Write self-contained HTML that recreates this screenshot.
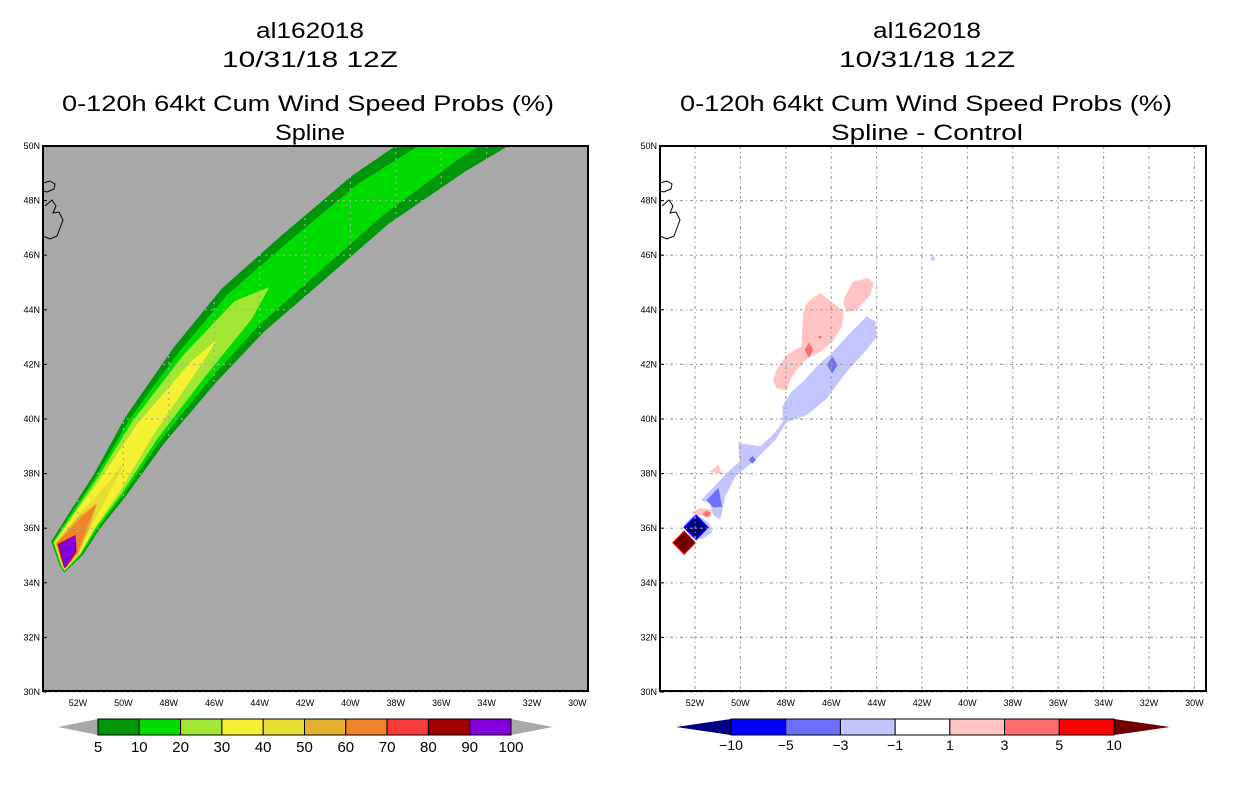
<!DOCTYPE html>
<html><head><meta charset="utf-8">
<style>
html,body{margin:0;padding:0;background:#fff;}
svg{display:block;}
text{font-family:"Liberation Sans",sans-serif;fill:#000;}
</style></head>
<body>
<svg id="root" width="1236" height="800" viewBox="0 0 1236 800">
  <g>
    <text x="310" y="38" font-size="22" text-anchor="middle" textLength="108" lengthAdjust="spacingAndGlyphs">al162018</text>
    <text x="310" y="67" font-size="22" text-anchor="middle" textLength="176" lengthAdjust="spacingAndGlyphs">10/31/18 12Z</text>
    <text x="308" y="111" font-size="22" text-anchor="middle" textLength="492" lengthAdjust="spacingAndGlyphs">0-120h 64kt Cum Wind Speed Probs (%)</text>
    <text x="310" y="140" font-size="22" text-anchor="middle" textLength="70" lengthAdjust="spacingAndGlyphs">Spline</text>
  </g>
  <g>
    <text x="927" y="38" font-size="22" text-anchor="middle" textLength="108" lengthAdjust="spacingAndGlyphs">al162018</text>
    <text x="927" y="67" font-size="22" text-anchor="middle" textLength="176" lengthAdjust="spacingAndGlyphs">10/31/18 12Z</text>
    <text x="926" y="111" font-size="22" text-anchor="middle" textLength="492" lengthAdjust="spacingAndGlyphs">0-120h 64kt Cum Wind Speed Probs (%)</text>
    <text x="927" y="140" font-size="22" text-anchor="middle" textLength="192" lengthAdjust="spacingAndGlyphs">Spline - Control</text>
  </g>
  <defs>
    <clipPath id="clipL"><rect x="0" y="0" width="545" height="545"/></clipPath>
    <clipPath id="clipR"><rect x="0" y="0" width="546" height="545"/></clipPath>
  </defs>
  <g id="panelL" transform="translate(43,146)"></g>
  <g id="panelR" transform="translate(660,146)"></g>
  <g id="cbL"></g>
  <g id="cbR"></g>
</svg>
<script>
// ---------- data ----------
const latTicks = [30,32,34,36,38,40,42,44,46,48,50];
const lonTicks = [52,50,48,46,44,42,40,38,36,34,32,30];
// track stations (deg W, deg N)
const stationLon = [52.57,52.48,51.69,50.59,49.05,46.85,44.73,42.22,39.14,35.66,32.09];
const stationLat = [34.6,35.27,36.3,37.58,39.6,41.98,43.99,45.82,48.02,50.0,51.68];
// half-widths (deg) of each probability contour along stations
const probLevels = [5,10,20,30,40,50,60,70,80,90];
const w5  = [0.18,0.62,0.62,0.7,0.85,1.0,1.1,1.12,1.1,1.1,1.03];
const w10 = [0.15,0.57,0.55,0.6,0.68,0.75,0.8,0.78,0.73,0.59,0.37];
const w20 = [0.12,0.53,0.48,0.52,0.55,0.55,0.45,0,0,0,0];
const w30 = [0.1,0.5,0.44,0.42,0.35,0.18,0,0,0,0,0];
const w40 = [0.08,0.47,0.3,0.1,0,0,0,0,0,0,0];
const w50 = [0.07,0.44,0.24,0,0,0,0,0,0,0,0];
const w60 = [0.06,0.42,0.16,0,0,0,0,0,0,0,0];
const w70 = [0.05,0.39,0,0,0,0,0,0,0,0,0];
const w80 = [0.04,0.35,0,0,0,0,0,0,0,0,0];
const w90 = [0.03,0.3,0,0,0,0,0,0,0,0,0];
const probColors = ['#00960a','#00dc00','#a0e632','#f5f032','#e6dc32','#e6af2d','#f08228','#fa3c3c','#a00000','#8200dc'];
const probLabels = ['5','10','20','30','40','50','60','70','80','90','100'];
// difference field polygons (deg W, deg N)
const diffBand = [[51.70,37.04],[50.60,38.01],[50.02,38.44],[50.09,39.11],[49.58,39.05],[49.13,38.99],[48.55,39.42],[48.11,39.90],[48.14,40.45],[47.74,41.00],[47.23,41.37],[46.64,41.92],[45.90,42.47],[45.24,43.08],[44.44,43.75],[44.07,43.57],[44.00,43.02],[44.58,42.41],[45.32,41.74],[46.20,40.76],[47.08,40.15],[47.96,39.90],[48.48,39.23],[49.28,38.56],[50.24,37.89],[50.68,37.16],[50.90,36.33],[51.19,36.49],[51.34,36.91]];
const diffNavyHalo = [[52.5,36.1],[52.0,36.55],[51.4,36.2],[51.25,35.85],[51.7,35.6],[52.2,35.7]];
const diffTri = [[51.48,37.03],[50.97,37.46],[50.82,36.79],[51.19,36.77]];
const diffPink1 = [[48.55,41.43],[48.40,41.80],[47.96,42.35],[47.30,42.65],[47.23,43.87],[47.08,44.24],[46.49,44.61],[45.46,43.93],[45.54,43.38],[45.90,42.90],[46.35,42.53],[47.08,42.22],[47.52,41.80],[47.81,41.43],[47.96,41.06],[48.40,41.13]];
const diffPink2 = [[45.39,44.48],[45.02,45.03],[44.36,45.15],[44.14,44.97],[44.29,44.54],[44.88,43.99],[45.32,43.93],[45.46,44.24]];
const diffPink3 = [[51.34,38.07],[50.97,38.32],[50.82,37.99]];
const diffPink4 = [[52.15,36.57],[51.78,36.73],[51.26,36.67],[51.34,36.42],[51.92,36.49]];
// diamonds: lon, lat, halfLon, halfLat, colour index
const diamonds = [[49.47,38.50,0.15,0.13,2],[45.95,41.98,0.22,0.3,2],[46.98,42.53,0.18,0.27,5],[51.48,36.52,0.18,0.12,5],[51.95,36.03,0.55,0.47,1],[51.95,36.03,0.45,0.38,0],[52.48,35.47,0.52,0.44,6],[52.48,35.47,0.46,0.38,7],[41.52,45.88,0.1,0.1,3],[46.5,43.0,0.08,0.05,5]];
const diffColors = ['#000080','#0000ff','#6e6eff','#c4c4ff','#ffffff','#ffc4c4','#ff0000','#6e0000'];
const diffBoxColors = ['#0000ff','#6e6eff','#c4c4ff','#ffffff','#ffc4c4','#ff6e6e','#ff0000'];
const diffLabels = ['\u221210','\u22125','\u22123','\u22121','1','3','5','10'];

// ---------- axes ----------
const NS='http://www.w3.org/2000/svg';
const X0=35, PXLON=22.7, PXLAT=27.3;
function xs(lonW){return X0+(52-lonW)*PXLON;}
function ys(lat){return (50-lat)*PXLAT;}
function mk(tag,parent,attrs){const e=document.createElementNS(NS,tag);for(const k in attrs)e.setAttribute(k,attrs[k]);parent.appendChild(e);return e;}
function ptsStr(arr){return arr.map(p=>xs(p[0]).toFixed(1)+','+ys(p[1]).toFixed(1)).join(' ');}

function drawFrame(panel,w,bg,prefix){
  const bgr=mk('rect',panel,{x:0,y:0,width:w,height:545,fill:bg});
  
  
  const content=mk('g',panel,{'clip-path':'url(#'+(prefix==='left'?'clipL':'clipR')+')'});
  
  
  return content;
}
function drawGridAxes(panel,w,gridColor,prefix,dash){
  const g=mk('g',panel,{});
  
  
  lonTicks.forEach(l=>{mk('line',g,{x1:xs(l),x2:xs(l),y1:0,y2:545,stroke:gridColor,'stroke-width':1.2,'stroke-dasharray':dash});});
  latTicks.forEach(l=>{mk('line',g,{x1:0,x2:w,y1:ys(l),y2:ys(l),stroke:gridColor,'stroke-width':1.2,'stroke-dasharray':dash});});
  const c=mk('path',panel,{d:'M0,37 L7,35 L12,38 L11,43 L4,46 L0,45 M2,60 L9,54 L13,60 L10,67 L16,66 L20,74 L17,82 L14,90 L7,93 L0,90',fill:'none',stroke:'#000','stroke-width':1});
  
  
  const fr=mk('rect',panel,{x:0,y:0,width:w,height:545,fill:'none',stroke:'#000','stroke-width':2});
  
  
  latTicks.forEach(l=>{
    const t=mk('text',panel,{x:-3,y:ys(l)+3,'font-size':9,'text-anchor':'end'});
    t.textContent=l+'N';
    
    
    mk('line',panel,{x1:0,x2:4,y1:ys(l),y2:ys(l),stroke:'#000','stroke-width':1});
  });
  lonTicks.forEach(l=>{
    const t=mk('text',panel,{x:xs(l),y:560,'font-size':9,'text-anchor':'middle'});
    t.textContent=l+'W';
    
    
  });
}

// ---------- left panel ----------
const pL=document.getElementById('panelL');
const cL=drawFrame(pL,545,'#a8a8a8','left');
const widths=[w5,w10,w20,w30,w40,w50,w60,w70,w80,w90];
const P=stationLon.map((lo,i)=>[xs(lo),ys(stationLat[i])]);
widths.forEach((w,k)=>{
  let last=0; w.forEach((v,i)=>{if(v>0)last=i;});
  const L=[],R=[];
  for(let i=0;i<=last;i++){
    const a=P[Math.max(0,i-1)], b=P[Math.min(P.length-1,i+1)];
    let tx=b[0]-a[0], ty=b[1]-a[1]; const n=Math.hypot(tx,ty); tx/=n; ty/=n;
    const h=w[i]*PXLAT;
    L.push([P[i][0]-ty*h,P[i][1]+tx*h]); R.push([P[i][0]+ty*h,P[i][1]-tx*h]);
  }
  let endPt=[];
  if(last<P.length-1){
    const f=0.45;
    endPt=[[P[last][0]+(P[last+1][0]-P[last][0])*f,P[last][1]+(P[last+1][1]-P[last][1])*f]];
  }
  const a0=P[0], b0=P[1];
  let tx0=b0[0]-a0[0], ty0=b0[1]-a0[1]; const n0=Math.hypot(tx0,ty0); tx0/=n0; ty0/=n0;
  const tipH=w[0]*PXLAT*1.2;
  const tip=[a0[0]-tx0*tipH,a0[1]-ty0*tipH];
  const pts=[tip].concat(L).concat(endPt).concat(R.reverse()).map(p=>p[0].toFixed(1)+','+p[1].toFixed(1)).join(' ');
  const poly=mk('polygon',cL,{points:pts,fill:probColors[k],'stroke':probColors[k],'stroke-width':0.5,'stroke-linejoin':'round'});
  
  
});
drawGridAxes(pL,545,'#a8a8a8','left','2,4');

// ---------- right panel ----------
const pR=document.getElementById('panelR');
const cR=drawFrame(pR,546,'#ffffff','right');
function poly(arr,color,name){
  const e=mk('polygon',cR,{points:ptsStr(arr),fill:color,stroke:color,'stroke-width':0.5});
  
  
}
poly(diffBand,diffColors[3],'diff-neg-band');
poly(diffNavyHalo,diffColors[3],'diff-neg-halo');
poly(diffTri,diffColors[2],'diff-neg3-patch');
poly(diffPink1,diffColors[5],'diff-pos-blob-1');
poly(diffPink2,diffColors[5],'diff-pos-blob-2');
poly(diffPink3,diffColors[5],'diff-pos-blob-3');
poly(diffPink4,diffColors[5],'diff-pos-blob-4');
diamonds.forEach(d=>{
  const arr=[[d[0]+d[2],d[1]],[d[0],d[1]+d[3]],[d[0]-d[2],d[1]],[d[0],d[1]-d[3]]];
  const col=d[4]===5?'#ff6e6e':diffColors[d[4]];
  poly(arr,col,'diff-diamond');
});
drawGridAxes(pR,546,'#a0a0a0','right','3,3,1,3');

// ---------- colorbars ----------
const cbL=document.getElementById('cbL');
const bx0=98,bx1=511,by0=719,by1=735,bw=(bx1-bx0)/probColors.length;
let tri=mk('polygon',cbL,{points:`${bx0},${by0} 58,727 ${bx0},${by1}`,fill:'#a8a8a8'});
 
tri=mk('polygon',cbL,{points:`${bx1},${by0} 553,727 ${bx1},${by1}`,fill:'#a8a8a8'});
 
probColors.forEach((c,i)=>{
  const r=mk('rect',cbL,{x:bx0+i*bw,y:by0,width:bw,height:by1-by0,fill:c,stroke:'#000','stroke-width':1});
   
});
probLabels.forEach((s,i)=>{
  const t=mk('text',cbL,{x:bx0+i*bw,y:752,'font-size':15,'text-anchor':'middle'});
  t.textContent=s;
   
});
const cbR=document.getElementById('cbR');
const rx0=731,rx1=1114,rw=(rx1-rx0)/diffBoxColors.length;
tri=mk('polygon',cbR,{points:`${rx0},${by0} 676,727 ${rx0},${by1}`,fill:diffColors[0]});
 
tri=mk('polygon',cbR,{points:`${rx1},${by0} 1170,727 ${rx1},${by1}`,fill:diffColors[7]});
 
diffBoxColors.forEach((c,i)=>{
  const r=mk('rect',cbR,{x:rx0+i*rw,y:by0,width:rw,height:by1-by0,fill:c,stroke:'#000','stroke-width':1});
   
});
diffLabels.forEach((s,i)=>{
  const t=mk('text',cbR,{x:rx0+i*rw,y:750,'font-size':14,'text-anchor':'middle'});
  t.textContent=s;
   
});
</script>
</body></html>
